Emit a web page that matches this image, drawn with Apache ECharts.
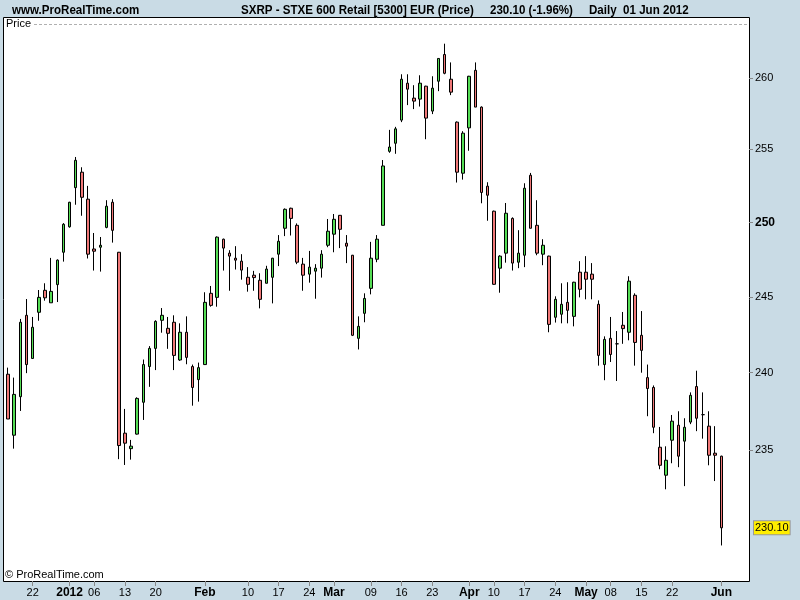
<!DOCTYPE html>
<html><head><meta charset="utf-8">
<script src="https://cdn.jsdelivr.net/npm/echarts@6/dist/echarts.min.js"></script>
<style>html,body{margin:0;padding:0;background:#c9dbe5}#c{width:800px;height:600px}</style>
</head><body><div id="c"></div>
<script>
const dates = [
'2011-12-16','2011-12-19','2011-12-20','2011-12-21','2011-12-22','2011-12-23','2011-12-27','2011-12-28','2011-12-29','2011-12-30',
'2012-01-02','2012-01-03','2012-01-04','2012-01-05','2012-01-06','2012-01-09','2012-01-10','2012-01-11','2012-01-12','2012-01-13',
'2012-01-16','2012-01-17','2012-01-18','2012-01-19','2012-01-20','2012-01-23','2012-01-24','2012-01-25','2012-01-26','2012-01-27',
'2012-01-30','2012-01-31','2012-02-01','2012-02-02','2012-02-03','2012-02-06','2012-02-07','2012-02-08','2012-02-09','2012-02-10',
'2012-02-13','2012-02-14','2012-02-15','2012-02-16','2012-02-17','2012-02-20','2012-02-21','2012-02-22','2012-02-23','2012-02-24',
'2012-02-27','2012-02-28','2012-02-29','2012-03-01','2012-03-02','2012-03-05','2012-03-06','2012-03-07','2012-03-08','2012-03-09',
'2012-03-12','2012-03-13','2012-03-14','2012-03-15','2012-03-16','2012-03-19','2012-03-20','2012-03-21','2012-03-22','2012-03-23',
'2012-03-26','2012-03-27','2012-03-28','2012-03-29','2012-03-30','2012-04-02','2012-04-03','2012-04-04','2012-04-05','2012-04-10',
'2012-04-11','2012-04-12','2012-04-13','2012-04-16','2012-04-17','2012-04-18','2012-04-19','2012-04-20','2012-04-23','2012-04-24',
'2012-04-25','2012-04-26','2012-04-27','2012-04-30','2012-05-02','2012-05-03','2012-05-04','2012-05-07','2012-05-08','2012-05-09',
'2012-05-10','2012-05-11','2012-05-14','2012-05-15','2012-05-16','2012-05-17','2012-05-18','2012-05-21','2012-05-22','2012-05-23',
'2012-05-24','2012-05-25','2012-05-28','2012-05-29','2012-05-30','2012-05-31','2012-06-01'
];
const opens = [
239.9,235.96,238.44,243.77,240.93,243.97,245.43,244.6,245.81,247.98,
249.7,252.37,253.43,251.58,248.2,248.32,249.66,251.37,247.98,236.09,
235.1,236.03,238.08,240.4,241.59,243.44,242.91,243.31,240.83,242.65,
240.4,239.55,240.53,245.23,244.96,248.86,247.92,247.58,247.38,246.3,
246.44,246.1,245.9,246.3,247.85,249.6,250.96,249.8,247.18,246.51,
246.71,246.91,248.45,249.2,250.48,248.59,247.78,242.25,243.9,245.56,
247.51,249.8,254.87,255.43,257.04,259.63,258.58,258.51,259.42,257.67,
259.77,261.66,259.91,256.9,253.36,256.5,260.54,257.95,252.47,250.76,
246.91,247.92,250.27,247.31,247.78,253.22,249.8,247.85,247.72,243.64,
243.84,244.63,243.7,246.64,246.64,246.51,244.5,240.53,242.25,241.89,
243.11,242.65,245.1,242.45,239.68,239.04,235.19,233.41,235.64,236.6,
235.58,236.8,239.1,237.28,236.54,234.81,234.62
];
const closes = [
237.0,238.59,243.31,240.53,242.98,244.96,244.93,245.36,247.45,249.87,
251.37,254.25,251.71,247.85,248.05,248.45,251.1,249.46,235.3,235.45,
235.26,238.33,240.53,241.59,243.37,243.77,242.58,241.13,242.65,241.0,
239.04,240.33,244.63,244.43,249.0,248.26,247.72,247.45,246.78,245.83,
246.28,244.83,246.85,247.58,248.72,250.89,250.27,247.31,246.44,246.98,
246.91,247.85,249.4,250.21,249.53,248.39,242.45,243.04,244.89,247.58,
248.86,253.86,255.17,256.43,259.91,259.21,258.37,259.63,257.18,259.28,
261.38,260.33,259.0,253.43,256.13,260.12,257.95,252.04,251.85,245.83,
247.72,250.62,247.25,247.92,252.33,249.6,247.92,248.45,243.17,244.83,
244.5,244.1,245.97,245.5,246.17,246.17,241.13,242.18,241.19,241.89,
242.89,246.04,241.98,241.46,238.97,236.47,234.04,234.36,236.86,234.62,
236.47,238.53,237.05,237.28,234.68,234.68,230.1
];
const lows = [
237.0,235.1,237.52,239.97,240.93,243.41,244.74,244.6,244.65,247.35,
249.64,251.2,250.45,247.56,246.75,246.68,249.6,248.63,234.43,234.06,
234.4,236.0,236.94,239.08,240.17,242.62,241.56,240.17,240.77,240.55,
237.86,238.12,240.5,244.34,244.34,246.75,245.4,246.82,246.14,245.34,
245.4,244.23,245.9,244.56,247.05,249.07,249.11,247.18,245.4,245.94,
244.87,246.28,248.32,247.98,248.26,247.25,242.4,241.52,243.31,245.16,
247.31,249.8,254.77,254.7,256.9,258.09,257.81,257.99,255.71,257.46,
259.07,260.26,258.79,252.72,252.92,254.91,257.95,251.3,250.11,245.8,
245.27,247.28,246.75,246.91,246.98,249.6,247.78,247.11,242.65,243.29,
243.24,243.24,243.04,244.96,244.83,244.83,240.46,239.51,240.7,239.46,
241.89,242.12,240.46,240.0,237.18,236.09,233.79,232.52,234.17,233.92,
232.72,236.67,236.22,235.74,234.04,233.04,229.0
];
const highs = [
240.33,239.68,243.53,244.85,243.66,245.45,245.9,247.6,247.5,249.95,
251.4,254.48,253.77,252.49,249.28,249.01,251.51,251.58,248.0,237.65,
235.66,238.4,240.86,241.74,243.44,244.25,243.66,243.77,243.24,243.7,
240.53,240.66,245.3,245.72,249.05,248.9,248.12,248.39,247.85,246.98,
246.73,246.57,247.07,247.6,249.14,250.95,251.0,249.93,247.6,248.07,
247.18,248.12,250.23,250.57,250.5,249.14,247.8,243.7,245.23,248.68,
249.14,254.27,256.36,256.57,260.26,260.26,259.49,260.19,259.45,260.12,
261.4,262.43,261.1,256.95,256.27,260.15,261.1,258.0,252.74,250.8,
247.78,251.32,250.34,249.47,252.67,253.38,251.51,248.86,247.75,245.03,
245.9,245.97,246.0,247.38,247.72,247.25,244.76,242.38,243.66,242.73,
243.99,246.37,245.23,244.05,240.53,239.17,236.49,235.25,237.26,237.5,
237.05,238.72,240.13,238.72,237.5,236.54,234.65
];
const yTicks = [235, 240, 245, 250, 255, 260];
const xLabelDates = ['2011-12-22','2012-01-02','2012-01-06','2012-01-13','2012-01-20','2012-02-01','2012-02-10','2012-02-17','2012-02-24','2012-03-01','2012-03-09','2012-03-16','2012-03-23','2012-04-02','2012-04-10','2012-04-17','2012-04-24','2012-05-02','2012-05-08','2012-05-15','2012-05-22','2012-06-01'];
const xLabelTexts = ['22','2012','06','13','20','Feb','10','17','24','Mar','09','16','23','Apr','10','17','24','May','08','15','22','Jun'];
const boldLabels = ['2012','Feb','Mar','Apr','May','Jun'];
const lastPrice = 230.10;
const emptySlots = ['pad1','pad2','pad3','pad4'];

const labelMap = {};
xLabelDates.forEach((d, i) => { labelMap[d] = xLabelTexts[i]; });
const ohlc = dates.map((d, i) => [opens[i], closes[i], lows[i], highs[i]]);
const FONT = '"Liberation Sans", Arial, sans-serif';
const HEAD = 'bold 13px "Liberation Sans", Arial, sans-serif';

function headText(text, x) {
  return {type: 'text', silent: true, x: x, y: 10, scaleX: 0.89, scaleY: 1,
    style: {text: text, x: 0, y: 0, verticalAlign: 'middle', font: HEAD, fill: '#000'}};
}

const chart = echarts.init(document.getElementById('c'), null, {renderer: 'canvas'});
chart.setOption({
  animation: false,
  backgroundColor: '#c9dbe5',
  grid: {left: 5, right: 51, top: 17, bottom: 19, containLabel: false},
  xAxis: {
    type: 'category',
    data: dates.concat(emptySlots),
    boundaryGap: true,
    axisLine: {show: false},
    axisTick: {show: true, alignWithLabel: true, length: 5, lineStyle: {color: '#888'},
      interval: (idx, val) => labelMap[val] !== undefined},
    axisLabel: {
      interval: (idx, val) => labelMap[val] !== undefined,
      margin: 6, fontSize: 11, color: '#000', fontFamily: FONT,
      formatter: (val) => {
        const t = labelMap[val];
        if (t === undefined) return '';
        return boldLabels.indexOf(t) >= 0 ? '{b|' + t + '}' : t;
      },
      rich: {b: {fontWeight: 'bold', fontSize: 12, fontFamily: FONT, color: '#000'}}
    },
    splitLine: {show: false}
  },
  yAxis: {
    type: 'log', logBase: 10, min: 226.8, max: 264.34, position: 'right',
    axisLine: {show: false},
    axisTick: {show: true, length: 4, lineStyle: {color: '#888'}, customValues: yTicks},
    axisLabel: {customValues: yTicks, margin: 6, fontSize: 11, color: '#000', fontFamily: FONT,
      formatter: (v) => { const r = Math.round(v); return r === 250 ? '{b|250}' : String(r); },
      rich: {b: {fontWeight: 'bold', fontSize: 12, fontFamily: FONT, color: '#000'}}},
    splitLine: {show: false},
    minorTick: {show: false}
  },
  graphic: [
    {type: 'rect', z: -10, silent: true, shape: {x: 3.5, y: 17.5, width: 746, height: 564},
      style: {fill: '#fff', stroke: '#000', lineWidth: 1}},
    {type: 'line', z: -9, silent: true, shape: {x1: 34, y1: 24.5, x2: 749, y2: 24.5},
      style: {stroke: '#b0b0b0', lineWidth: 1, lineDash: [3, 2]}},
    {type: 'text', silent: true, style: {text: 'Price', x: 6, y: 24, verticalAlign: 'middle', font: '11px ' + FONT, fill: '#000'}},
    {type: 'text', silent: true, style: {text: '\u00a9 ProRealTime.com', x: 5, y: 575, verticalAlign: 'middle', font: '11px ' + FONT, fill: '#000'}},
    headText('www.ProRealTime.com', 12),
    headText('SXRP - STXE 600 Retail [5300] EUR (Price)', 241),
    headText('230.10 (-1.96%)', 490),
    headText('Daily  01 Jun 2012', 589)
  ],
  series: [{
    type: 'candlestick',
    data: ohlc,
    barWidth: 3,
    itemStyle: {color: '#55dd55', color0: '#f07878', borderColor: '#000', borderColor0: '#000', borderColorDoji: '#000', borderWidth: 1},
    markLine: {
      silent: true, symbol: 'none', animation: false,
      lineStyle: {width: 0, color: 'transparent'},
      data: [{yAxis: lastPrice}],
      label: {position: 'end', distance: 5, formatter: () => lastPrice.toFixed(2),
        backgroundColor: '#ffee00', borderColor: '#999', borderWidth: 1, padding: [2, 1, 0, 1],
        color: '#000', fontSize: 11, fontFamily: FONT}
    }
  }]
});
</script>
</body></html>
